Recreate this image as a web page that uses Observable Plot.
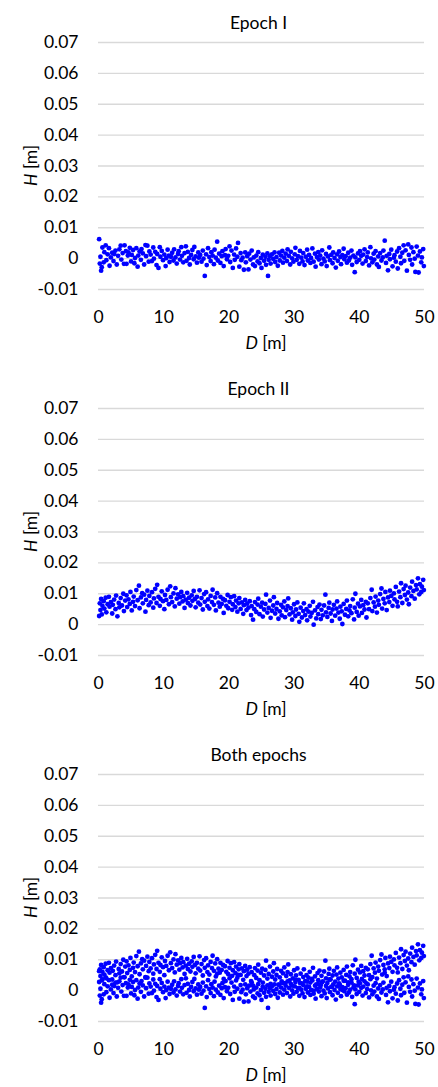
<!DOCTYPE html>
<html><head><meta charset="utf-8">
<script src="https://cdn.jsdelivr.net/npm/d3@7"></script>
<script src="https://cdn.jsdelivr.net/npm/@observablehq/plot@0.6"></script>
<style>
body{margin:0;background:#fff;}
#chart{width:438px;}
#chart svg{display:block;}
</style>
</head><body><div id="chart"></div>
<script>
const titles = ["Epoch I", "Epoch II", "Both epochs"];
const xTicks = [0, 10, 20, 30, 40, 50];
const xTickLabels = ["0", "10", "20", "30", "40", "50"];
const yTicks = [-0.01, 0, 0.01, 0.02, 0.03, 0.04, 0.05, 0.06, 0.07];
const yTickLabels = ["-0.01", "0", "0.01", "0.02", "0.03", "0.04", "0.05", "0.06", "0.07"];

// Epoch I: distance D [m] and height deviation H [m]
const epoch1D = [
0.1,0.2,0.3,0.4,0.5,0.6,0.8,0.9,1.1,1.2,
1.4,1.6,1.7,1.9,2.1,2.3,2.4,2.6,2.8,3.0,
3.2,3.4,3.5,3.7,3.9,4.0,4.2,4.3,4.5,4.6,
4.8,5.0,5.1,5.3,5.5,5.6,5.8,6.0,6.1,6.3,
6.5,6.6,6.8,7.0,7.2,7.3,7.5,7.7,7.8,8.0,
8.2,8.4,8.5,8.7,8.9,9.0,9.2,9.4,9.5,9.7,
9.9,10.1,10.3,10.4,10.6,10.8,10.9,11.1,11.3,11.5,
11.6,11.8,12.0,12.2,12.3,12.5,12.7,12.8,13.0,13.2,
13.4,13.5,13.7,13.9,14.0,14.2,14.4,14.6,14.7,14.9,
15.1,15.3,15.4,15.6,15.8,16.0,16.1,16.3,16.5,16.6,
16.8,17.0,17.2,17.3,17.5,17.7,17.8,18.0,18.2,18.3,
18.5,18.7,18.9,19.0,19.2,19.4,19.5,19.7,19.9,20.1,
20.2,20.4,20.6,20.8,20.9,21.1,21.3,21.4,21.6,21.8,
21.9,22.1,22.3,22.5,22.6,22.8,23.0,23.1,23.3,23.5,
23.7,23.8,24.0,24.2,24.4,24.5,24.7,24.9,25.0,25.2,
25.4,25.6,25.7,25.9,26.0,26.1,26.3,26.4,26.6,26.8,
27.0,27.1,27.3,27.5,27.7,27.8,28.0,28.2,28.3,28.5,
28.7,28.9,29.0,29.2,29.4,29.5,29.7,29.9,30.1,30.2,
30.4,30.6,30.8,30.9,31.1,31.3,31.4,31.6,31.8,32.0,
32.1,32.3,32.5,32.6,32.8,33.0,33.2,33.3,33.5,33.7,
33.8,34.0,34.2,34.3,34.5,34.7,34.9,35.0,35.2,35.4,
35.5,35.7,35.9,36.0,36.2,36.4,36.6,36.7,36.9,37.1,
37.2,37.4,37.6,37.7,37.9,38.1,38.3,38.4,38.6,38.8,
38.9,39.1,39.3,39.4,39.6,39.8,40.0,40.1,40.3,40.5,
40.6,40.8,41.0,41.2,41.3,41.5,41.7,41.8,42.0,42.2,
42.3,42.5,42.7,42.9,43.0,43.2,43.4,43.6,43.7,43.9,
44.1,44.2,44.4,44.6,44.7,44.9,45.1,45.3,45.4,45.6,
45.8,45.9,46.1,46.3,46.4,46.6,46.8,46.9,47.1,47.3,
47.5,47.6,47.8,48.0,48.1,48.3,48.5,48.6,48.8,49.0,
49.1,49.3,49.5,49.6,49.8,49.9];
const epoch1H = [
0.0063,-0.0016,0.0006,-0.0039,-0.0028,0.0036,-0.0012,0.0021,0.0043,-0.0005,
0.0014,0.0034,-0.0023,0.0004,0.0019,-0.0008,0.0015,0.0026,-0.0019,0.0009,
0.0030,0.0042,-0.0003,0.0018,-0.0017,0.0043,0.0024,-0.0017,0.0010,0.0020,
0.0035,-0.0009,0.0012,0.0028,-0.0015,0.0002,0.0034,-0.0026,0.0010,0.0023,
-0.0004,0.0031,0.0017,-0.0019,0.0044,0.0008,0.0042,-0.0010,0.0023,0.0013,
-0.0008,0.0036,0.0000,0.0022,-0.0021,0.0015,-0.0030,0.0037,0.0006,0.0025,
-0.0005,0.0013,-0.0024,0.0002,0.0029,0.0010,-0.0011,0.0006,0.0019,-0.0006,
0.0030,0.0004,-0.0016,0.0015,0.0024,-0.0003,0.0037,0.0009,-0.0012,0.0018,
0.0040,-0.0007,0.0022,0.0002,-0.0019,0.0012,0.0028,-0.0002,0.0038,0.0007,
-0.0013,0.0020,0.0003,0.0012,-0.0010,0.0026,0.0000,-0.0056,0.0014,-0.0021,
0.0034,0.0005,-0.0008,0.0021,0.0010,-0.0018,0.0029,0.0003,0.0055,-0.0006,
0.0016,-0.0014,0.0008,0.0024,-0.0024,0.0011,0.0031,-0.0002,0.0009,0.0040,
-0.0011,0.0026,-0.0030,0.0013,-0.0004,0.0033,0.0006,0.0051,-0.0026,0.0018,
-0.0005,0.0003,-0.0036,0.0020,-0.0012,0.0008,-0.0035,0.0016,-0.0003,0.0026,
-0.0019,0.0004,-0.0024,0.0010,-0.0009,0.0021,-0.0015,0.0002,-0.0030,0.0013,
-0.0007,0.0006,-0.0020,0.0017,-0.0056,-0.0004,0.0008,-0.0016,0.0014,-0.0001,
0.0020,-0.0011,0.0005,-0.0023,0.0019,-0.0006,0.0010,0.0025,-0.0013,0.0003,
0.0016,-0.0008,0.0030,0.0009,-0.0019,0.0022,0.0001,-0.0010,0.0014,0.0035,
-0.0004,0.0008,-0.0017,0.0025,0.0003,-0.0009,0.0018,-0.0021,0.0006,0.0029,
-0.0006,0.0012,-0.0014,0.0002,0.0033,-0.0010,0.0016,-0.0026,0.0005,0.0021,
-0.0003,0.0010,-0.0018,0.0027,0.0000,-0.0009,0.0015,-0.0024,0.0007,0.0036,
-0.0005,0.0012,-0.0015,0.0020,0.0002,-0.0029,0.0014,-0.0007,0.0023,0.0005,
-0.0018,0.0011,0.0032,-0.0002,0.0008,-0.0013,0.0019,-0.0006,0.0003,0.0026,
-0.0020,0.0010,-0.0044,0.0004,-0.0011,0.0017,-0.0004,0.0024,0.0009,-0.0016,
0.0013,0.0030,-0.0008,0.0005,0.0020,-0.0022,0.0037,0.0001,-0.0012,0.0016,
-0.0003,0.0024,-0.0019,0.0007,-0.0027,0.0018,-0.0006,0.0004,0.0026,0.0058,
-0.0014,0.0009,-0.0038,0.0015,-0.0002,0.0029,-0.0025,0.0003,0.0011,-0.0010,
0.0023,-0.0032,0.0034,0.0006,-0.0015,0.0019,0.0043,-0.0007,0.0027,-0.0039,
0.0046,0.0012,-0.0004,0.0036,-0.0019,0.0021,0.0000,-0.0043,0.0039,0.0010,
-0.0045,0.0023,-0.0012,0.0004,0.0031,-0.0024];

// Epoch II
const epoch2D = [
0.1,0.2,0.3,0.4,0.5,0.6,0.8,0.9,1.1,1.2,
1.4,1.6,1.7,1.9,2.1,2.2,2.4,2.6,2.7,2.9,
3.1,3.2,3.4,3.6,3.8,3.9,4.1,4.3,4.4,4.6,
4.8,4.9,5.1,5.3,5.4,5.6,5.8,6.0,6.2,6.3,
6.5,6.7,6.8,7.0,7.2,7.3,7.5,7.7,7.8,8.0,
8.2,8.4,8.5,8.7,8.9,9.0,9.2,9.4,9.5,9.7,
9.9,10.1,10.2,10.4,10.6,10.8,11.0,11.1,11.3,11.5,
11.7,11.8,12.0,12.2,12.4,12.5,12.7,12.9,13.0,13.2,
13.4,13.6,13.7,13.9,14.1,14.3,14.4,14.6,14.8,14.9,
15.1,15.3,15.5,15.6,15.8,16.0,16.2,16.3,16.5,16.7,
16.8,17.0,17.2,17.4,17.5,17.7,17.9,18.0,18.2,18.4,
18.6,18.7,18.9,19.1,19.2,19.4,19.6,19.8,19.9,20.1,
20.3,20.5,20.6,20.8,21.0,21.1,21.3,21.5,21.6,21.8,
22.0,22.2,22.3,22.5,22.7,22.8,23.0,23.2,23.4,23.5,
23.7,23.9,24.0,24.2,24.4,24.5,24.7,24.9,25.1,25.2,
25.4,25.6,25.7,25.9,26.1,26.3,26.4,26.6,26.8,26.9,
27.1,27.3,27.4,27.6,27.8,28.0,28.1,28.3,28.5,28.6,
28.8,29.0,29.1,29.3,29.5,29.7,29.8,30.0,30.2,30.3,
30.5,30.7,30.8,31.0,31.2,31.4,31.5,31.7,31.9,32.0,
32.2,32.4,32.5,32.7,32.9,33.0,33.2,33.4,33.6,33.7,
33.9,34.1,34.2,34.4,34.6,34.8,34.9,35.1,35.3,35.4,
35.6,35.8,35.9,36.1,36.3,36.5,36.6,36.8,37.0,37.1,
37.3,37.4,37.6,37.8,38.0,38.1,38.3,38.5,38.6,38.8,
39.0,39.2,39.3,39.4,39.6,39.8,39.9,40.1,40.3,40.4,
40.6,40.8,41.0,41.1,41.3,41.5,41.7,41.9,42.0,42.2,
42.4,42.5,42.7,42.9,43.0,43.2,43.4,43.5,43.7,43.9,
44.0,44.2,44.4,44.6,44.7,44.9,45.1,45.3,45.4,45.6,
45.8,45.9,46.1,46.3,46.4,46.6,46.8,47.0,47.1,47.3,
47.5,47.6,47.8,48.0,48.1,48.3,48.5,48.7,48.8,49.0,
49.2,49.3,49.5,49.6,49.8,49.9];
const epoch2H = [
0.0028,0.0069,0.0047,0.0083,0.0033,0.0061,0.0076,0.0052,0.0087,0.0040,
0.0066,0.0090,0.0058,0.0073,0.0036,0.0064,0.0081,0.0050,0.0094,0.0027,
0.0070,0.0056,0.0086,0.0062,0.0100,0.0044,0.0078,0.0095,0.0057,0.0082,
0.0067,0.0106,0.0046,0.0074,0.0091,0.0060,0.0112,0.0079,0.0126,0.0053,
0.0088,0.0102,0.0069,0.0097,0.0042,0.0080,0.0110,0.0063,0.0093,0.0072,
0.0105,0.0055,0.0085,0.0116,0.0070,0.0129,0.0090,0.0061,0.0083,0.0108,
0.0076,0.0050,0.0096,0.0080,0.0113,0.0066,0.0124,0.0089,0.0073,0.0101,
0.0059,0.0118,0.0084,0.0098,0.0068,0.0089,0.0106,0.0075,0.0092,0.0054,
0.0081,0.0103,0.0070,0.0087,0.0062,0.0095,0.0077,0.0109,0.0083,0.0056,
0.0090,0.0071,0.0111,0.0065,0.0086,0.0049,0.0099,0.0074,0.0105,0.0060,
0.0082,0.0052,0.0093,0.0073,0.0113,0.0064,0.0088,0.0046,0.0102,0.0071,
0.0058,0.0090,0.0067,0.0083,0.0038,0.0079,0.0061,0.0096,0.0053,0.0074,
0.0089,0.0048,0.0066,0.0092,0.0057,0.0078,0.0042,0.0069,0.0086,0.0051,
0.0072,0.0035,0.0063,0.0080,0.0047,0.0068,0.0055,0.0076,0.0031,0.0060,
0.0016,0.0050,0.0073,0.0041,0.0065,0.0084,0.0034,0.0058,0.0071,0.0026,
0.0049,0.0067,0.0097,0.0039,0.0054,0.0078,0.0022,0.0045,0.0062,0.0089,
0.0036,0.0051,0.0070,0.0019,0.0043,0.0064,0.0030,0.0056,0.0075,0.0024,
0.0047,0.0060,0.0085,0.0033,0.0053,0.0016,0.0040,0.0066,0.0028,0.0049,
0.0072,0.0035,0.0009,0.0055,0.0023,0.0044,0.0069,0.0031,0.0050,0.0014,
0.0042,0.0061,0.0026,0.0038,0.0074,0.0000,0.0046,0.0020,0.0057,0.0034,
0.0065,0.0018,0.0048,0.0030,0.0062,0.0097,0.0040,0.0025,0.0054,0.0071,
0.0036,0.0012,0.0049,0.0064,0.0029,0.0052,0.0075,0.0039,0.0019,0.0058,
0.0043,0.0002,0.0067,0.0032,0.0051,0.0078,0.0027,0.0046,0.0060,0.0037,
0.0082,0.0017,0.0055,0.0100,0.0041,0.0068,0.0029,0.0059,0.0080,0.0038,
0.0063,0.0049,0.0074,0.0023,0.0069,0.0050,0.0086,0.0113,0.0044,0.0072,
0.0058,0.0091,0.0039,0.0078,0.0064,0.0099,0.0117,0.0052,0.0083,0.0069,
0.0106,0.0047,0.0088,0.0073,0.0110,0.0093,0.0061,0.0101,0.0082,0.0122,
0.0074,0.0059,0.0107,0.0089,0.0134,0.0070,0.0115,0.0096,0.0126,0.0081,
0.0104,0.0066,0.0120,0.0092,0.0139,0.0109,0.0084,0.0128,0.0114,0.0150,
0.0098,0.0131,0.0106,0.0123,0.0145,0.0112];

const FONT = "Lato, 'Open Sans', sans-serif";
const FS = 17.5;

function panel(title, D, H, height, marginBottom) {
  const rows = D.map((d, i) => ({D: d, H: H[i]}));
  const svg = Plot.plot({
    width: 438,
    height,
    marginTop: 42,
    marginBottom,
    marginLeft: 98,
    marginRight: 14,
    style: {fontFamily: FONT, fontSize: FS + "px", color: "#000", background: "#fff", overflow: "visible"},
    x: {domain: [0, 50]},
    y: {domain: [-0.01, 0.07]},
    marks: [
      Plot.ruleY(yTicks, {stroke: "#d9d9d9", strokeWidth: 1.3}),
      Plot.axisY({ticks: yTicks, tickSize: 0, tickPadding: 20, label: null,
        tickFormat: d => yTickLabels[yTicks.findIndex(t => Math.abs(t - d) < 1e-9)]}),
      Plot.axisX({ticks: xTicks, tickSize: 0, tickPadding: 21, label: null,
        tickFormat: d => xTickLabels[xTicks.indexOf(d)]}),
      Plot.dot(rows, {x: "D", y: "H", r: 2.4, fill: "#0000ff", stroke: null}),
      Plot.text([title], {frameAnchor: "top", dy: -26, dx: -3, text: d => d, fontSize: FS})
    ]
  });
  const s = d3.select(svg);
  const yl = s.append("text")
    .attr("transform", "translate(31,165.5) rotate(-90)")
    .attr("text-anchor", "middle").attr("dy", "0.35em")
    .attr("font-size", FS).attr("fill", "#000");
  yl.append("tspan").attr("font-style", "italic").text("H");
  yl.append("tspan").text(" [m]");
  const xl = s.append("text")
    .attr("transform", "translate(266,343)")
    .attr("text-anchor", "middle").attr("dy", "0.35em")
    .attr("font-size", FS).attr("fill", "#000");
  xl.append("tspan").attr("font-style", "italic").text("D");
  xl.append("tspan").text(" [m]");
  return svg;
}

const chart = document.getElementById("chart");
chart.append(panel(titles[0], epoch1D, epoch1H, 366, 77));
chart.append(panel(titles[1], epoch2D, epoch2H, 366, 77));
chart.append(panel(titles[2], epoch1D.concat(epoch2D), epoch1H.concat(epoch2H), 355, 66));
</script>
</body></html>
